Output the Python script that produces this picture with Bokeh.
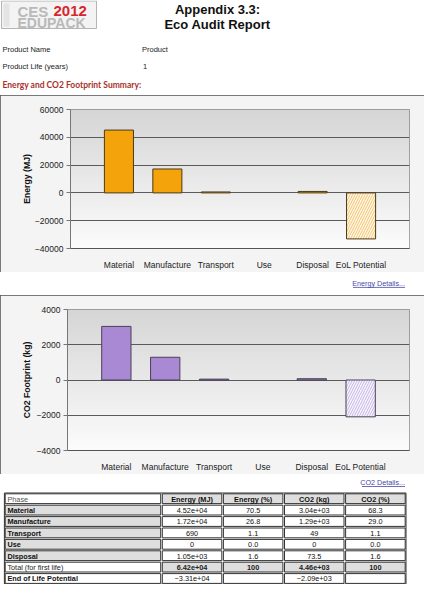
import numpy as np
from bokeh.plotting import figure
from bokeh.models import Range1d, FactorRange, FixedTicker, ColumnDataSource
from bokeh.layouts import column
from bokeh.embed import file_html
from bokeh.resources import INLINE
from bokeh.core.properties import value

# ---------------- data ----------------
phases = ["Material", "Manufacture", "Transport", "Use", "Disposal", "EoL Potential"]
energy_mj = [45200, 17200, 690, 0, 1050, -33100]
co2_kg = [3040, 1290, 49, 0, 73.5, -2090]
energy_pct = [70.5, 26.8, 1.1, 0.0, 1.6]
co2_pct = [68.3, 29.0, 1.1, 0.0, 1.6]
total_energy = 64200
total_co2 = 4460
total_pct = [100, 100]
energy_ticks = [-40000, -20000, 0, 20000, 40000, 60000]
co2_ticks = [-4000, -2000, 0, 2000, 4000]
table_headers = ["Phase", "Energy (MJ)", "Energy (%)", "CO2 (kg)", "CO2 (%)"]
table_phases = ["Material", "Manufacture", "Transport", "Use", "Disposal"]
total_label = "Total (for first life)"
eol_label = "End of Life Potential"
product_name = "Product"
product_life = "1"

W = 424
FONT = "Liberation Sans"


def minus(s):
    return s.replace("-", "\u2212", 1) if s.startswith("-") else s


def fmt(v):
    return minus("%.3g" % v)


def blank(h, xr, yr):
    p = figure(width=W, height=h, x_range=Range1d(*xr), y_range=Range1d(*yr),
               output_backend="svg", toolbar_location=None, min_border=0,
               x_axis_type=None, y_axis_type=None)
    p.grid.visible = False
    p.outline_line_color = None
    p.background_fill_color = "white"
    p.border_fill_color = "white"
    return p


# ---------------- header ----------------
hdr = blank(95, (0, W), (95, 0))
hdr.quad(left=[1], right=[96], top=[0.5], bottom=[28], fill_color="#f3f3f3", line_color="#b5b5b5")
hdr.quad(left=[3], right=[9], top=[3], bottom=[26], fill_color="#e4e4e4", line_color=None)
hdr.text(x=[17], y=[10.5], text=["CES"], text_font=value(FONT), text_font_style="bold",
         text_font_size="15px", text_color="#b9b9b9", text_baseline="middle")
hdr.text(x=[53], y=[10.5], text=["2012"], text_font=value(FONT), text_font_style="bold",
         text_font_size="15px", text_color="#d8262c", text_baseline="middle")
hdr.text(x=[17], y=[22], text=["EDUPACK"], text_font=value(FONT), text_font_style="bold",
         text_font_size="14px", text_color="#b9b9b9", text_baseline="middle")
hdr.text(x=[217, 217], y=[9, 23.5], text=["Appendix 3.3:", "Eco Audit Report"],
         text_font=value(FONT), text_font_style="bold", text_font_size="13px",
         text_color="#111111", text_align="center", text_baseline="middle")
hdr.text(x=[2, 141.5, 2, 142.5], y=[49, 49, 65.5, 65.5],
         text=["Product Name", product_name, "Product Life (years)", product_life],
         text_font=value(FONT), text_font_size="7.5px", text_color="#222222",
         text_baseline="middle")
hdr.text(x=[2], y=[84.5], text=["Energy and CO2 Footprint Summary:"], text_font=value("Lato"),
         text_font_style="bold", text_font_size="8.5px", text_color="#a8322a",
         text_baseline="middle")


# ---------------- charts ----------------
def chart(h, vals, ticks, ylabel, fill, line, hatch_fill, hatch_color,
          mb_left, frame_w, mb_top, frame_h, label_standoff):
    ymin, ymax = ticks[0], ticks[-1]
    p = figure(width=W, height=h,
               x_range=FactorRange(factors=phases, range_padding=0.5, range_padding_units="absolute"),
               y_range=Range1d(ymin, ymax), output_backend="svg", toolbar_location=None,
               min_border_left=mb_left, min_border_right=W - mb_left - frame_w,
               min_border_top=mb_top, min_border_bottom=h - mb_top - frame_h)
    p.border_fill_color = "#f4f4f4"
    p.background_fill_color = "#f0f0f0"
    p.outline_line_color = "#8a8a8a"
    p.styles = {"outline": "2px solid #505050", "outline-offset": "-2px"}

    # vertical gradient for the plot area background
    n = 120
    top_c = np.array([214, 214, 214])
    bot_c = np.array([252, 252, 252])
    t = np.linspace(0, 1, n)[:, None]
    cols = (bot_c * (1 - t) + top_c * t).astype(np.uint8)
    img = np.empty((n, 1), dtype=np.uint32)
    view = img.view(dtype=np.uint8).reshape((n, 1, 4))
    view[:, 0, 0] = cols[:, 0]
    view[:, 0, 1] = cols[:, 1]
    view[:, 0, 2] = cols[:, 2]
    view[:, 0, 3] = 255
    p.image_rgba(image=[img], x=-0.5, y=ymin, dw=7, dh=ymax - ymin, level="image")

    src = ColumnDataSource(dict(
        x=phases, top=vals,
        fill=[hatch_fill if v < 0 else fill for v in vals],
        hatch=["/" if v < 0 else " " for v in vals],
        edge=[None if v == 0 else line for v in vals],
    ))
    p.vbar(x="x", top="top", bottom=0, width=0.6, source=src, fill_color="fill",
           line_color="edge", line_width=1, hatch_pattern="hatch", hatch_color=hatch_color,
           hatch_scale=5, hatch_weight=0.8)

    p.xgrid.visible = False
    p.ygrid.ticker = FixedTicker(ticks=ticks)
    p.ygrid.grid_line_color = "#5a5a5a"
    p.ygrid.grid_line_width = 1
    p.ygrid.level = "image"

    ya = p.yaxis[0]
    ya.ticker = FixedTicker(ticks=ticks)
    ya.major_label_overrides = {t_: minus(str(t_)) for t_ in ticks}
    ya.axis_label = ylabel
    ya.axis_label_text_font = FONT
    ya.axis_label_text_font_style = "bold"
    ya.axis_label_text_font_size = "8.7px"
    ya.axis_label_text_color = "#111111"
    ya.axis_label_standoff = label_standoff
    ya.major_label_text_font = FONT
    ya.major_label_text_font_size = "8.5px"
    ya.major_label_text_color = "#222222"
    ya.major_label_standoff = 3
    ya.major_tick_out = 4
    ya.major_tick_in = 0
    ya.minor_tick_line_color = None
    ya.axis_line_color = "#777777"
    ya.major_tick_line_color = "#777777"

    xa = p.xaxis[0]
    xa.major_label_text_font = FONT
    xa.major_label_text_font_size = "8.5px"
    xa.major_label_text_color = "#222222"
    xa.major_tick_line_color = None
    xa.minor_tick_line_color = None
    xa.major_label_standoff = 5
    xa.axis_line_color = "#555555"
    return p


p1 = chart(177, energy_mj, energy_ticks, "Energy (MJ)", "#f5a30a", "#4a3a1a",
           "#fff8ea", "#f0b54a", 70, 339, 14, 139, 0)
p2 = chart(179, co2_kg, co2_ticks, "CO2 Footprint (kg)", "#a988d4", "#4a4058",
           "#f8f5fc", "#b9a3de", 67, 342, 14, 141, 2)


# ---------------- links ----------------
def link(h, y, txt, w):
    p = blank(h, (0, W), (h, 0))
    p.text(x=[404.5], y=[y], text=[txt], text_font=value(FONT), text_font_size="7.2px",
           text_color="#4848a8", text_align="right", text_baseline="middle")
    p.segment(x0=[404.5 - w], y0=[y + 4.2], x1=[404.5], y1=[y + 4.2], line_color="#4848a8",
              line_width=0.8)
    return p


l1 = link(23, 10.7, "Energy Details...", 52)
l2 = link(17, 7.8, "CO2 Details...", 43)

# ---------------- table ----------------
tb = blank(93, (0, W), (93, 0))
cx = [3.9, 161.0, 222.1, 283.2, 344.3, 405.5]
ry = [1.5 + 11.4 * i for i in range(9)]
GREY = "#dedede"

rows = [table_headers]
fills = [["white", GREY, GREY, GREY, GREY]]
styles = [["normal", "bold", "bold", "bold", "bold"]]
colors = [["#555555", "#111111", "#111111", "#111111", "#111111"]]
for i, ph in enumerate(table_phases):
    rows.append([ph, fmt(energy_mj[i]), "%.1f" % energy_pct[i], fmt(co2_kg[i]), "%.1f" % co2_pct[i]])
    fills.append([GREY, "white", "white", "white", "white"])
    styles.append(["bold", "normal", "normal", "normal", "normal"])
    colors.append(["#111111"] * 5)
rows.append([total_label, fmt(total_energy), "%d" % total_pct[0], fmt(total_co2), "%d" % total_pct[1]])
fills.append(["white", GREY, GREY, GREY, GREY])
styles.append(["normal", "bold", "bold", "bold", "bold"])
colors.append(["#222222"] * 5)
rows.append([eol_label, fmt(energy_mj[5]), "", fmt(co2_kg[5]), ""])
fills.append(["white"] * 5)
styles.append(["bold", "normal", "normal", "normal", "normal"])
colors.append(["#111111"] * 5)

ql, qr, qt, qb, qf = [], [], [], [], []
tx, tyy, tt, ta, ts, tc = [], [], [], [], [], []
ins = 0.8
for r, row in enumerate(rows):
    for c, txt in enumerate(row):
        ql.append(cx[c] + ins)
        qr.append(cx[c + 1] - ins)
        qt.append(ry[r] + ins)
        qb.append(ry[r + 1] - ins)
        qf.append(fills[r][c])
        if txt:
            if c == 0:
                tx.append(cx[0] + 3)
                ta.append("left")
            else:
                tx.append((cx[c] + cx[c + 1]) / 2)
                ta.append("center")
            tyy.append((ry[r] + ry[r + 1]) / 2 + 0.3)
            tt.append(txt)
            ts.append(styles[r][c])
            tc.append(colors[r][c])

tb.quad(left=[cx[0]], right=[cx[-1]], top=[ry[0]], bottom=[ry[-1]], fill_color="white",
        line_color="#333333", line_width=1)
tb.quad(left=ql, right=qr, top=qt, bottom=qb, fill_color=qf, line_color="#333333", line_width=1)
tsrc = ColumnDataSource(dict(x=tx, y=tyy, text=tt, align=ta, style=ts, color=tc))
tb.text(x="x", y="y", text="text", source=tsrc, text_align="align", text_font_style="style",
        text_color="color", text_font=value(FONT), text_font_size="7.3px",
        text_baseline="middle")

# wrap each figure in its own column so that the frames are not aligned with each other
layout = column([column(f, spacing=0) for f in (hdr, p1, l1, p2, l2, tb)], spacing=0)
open("out.html", "w").write(file_html(layout, INLINE))
